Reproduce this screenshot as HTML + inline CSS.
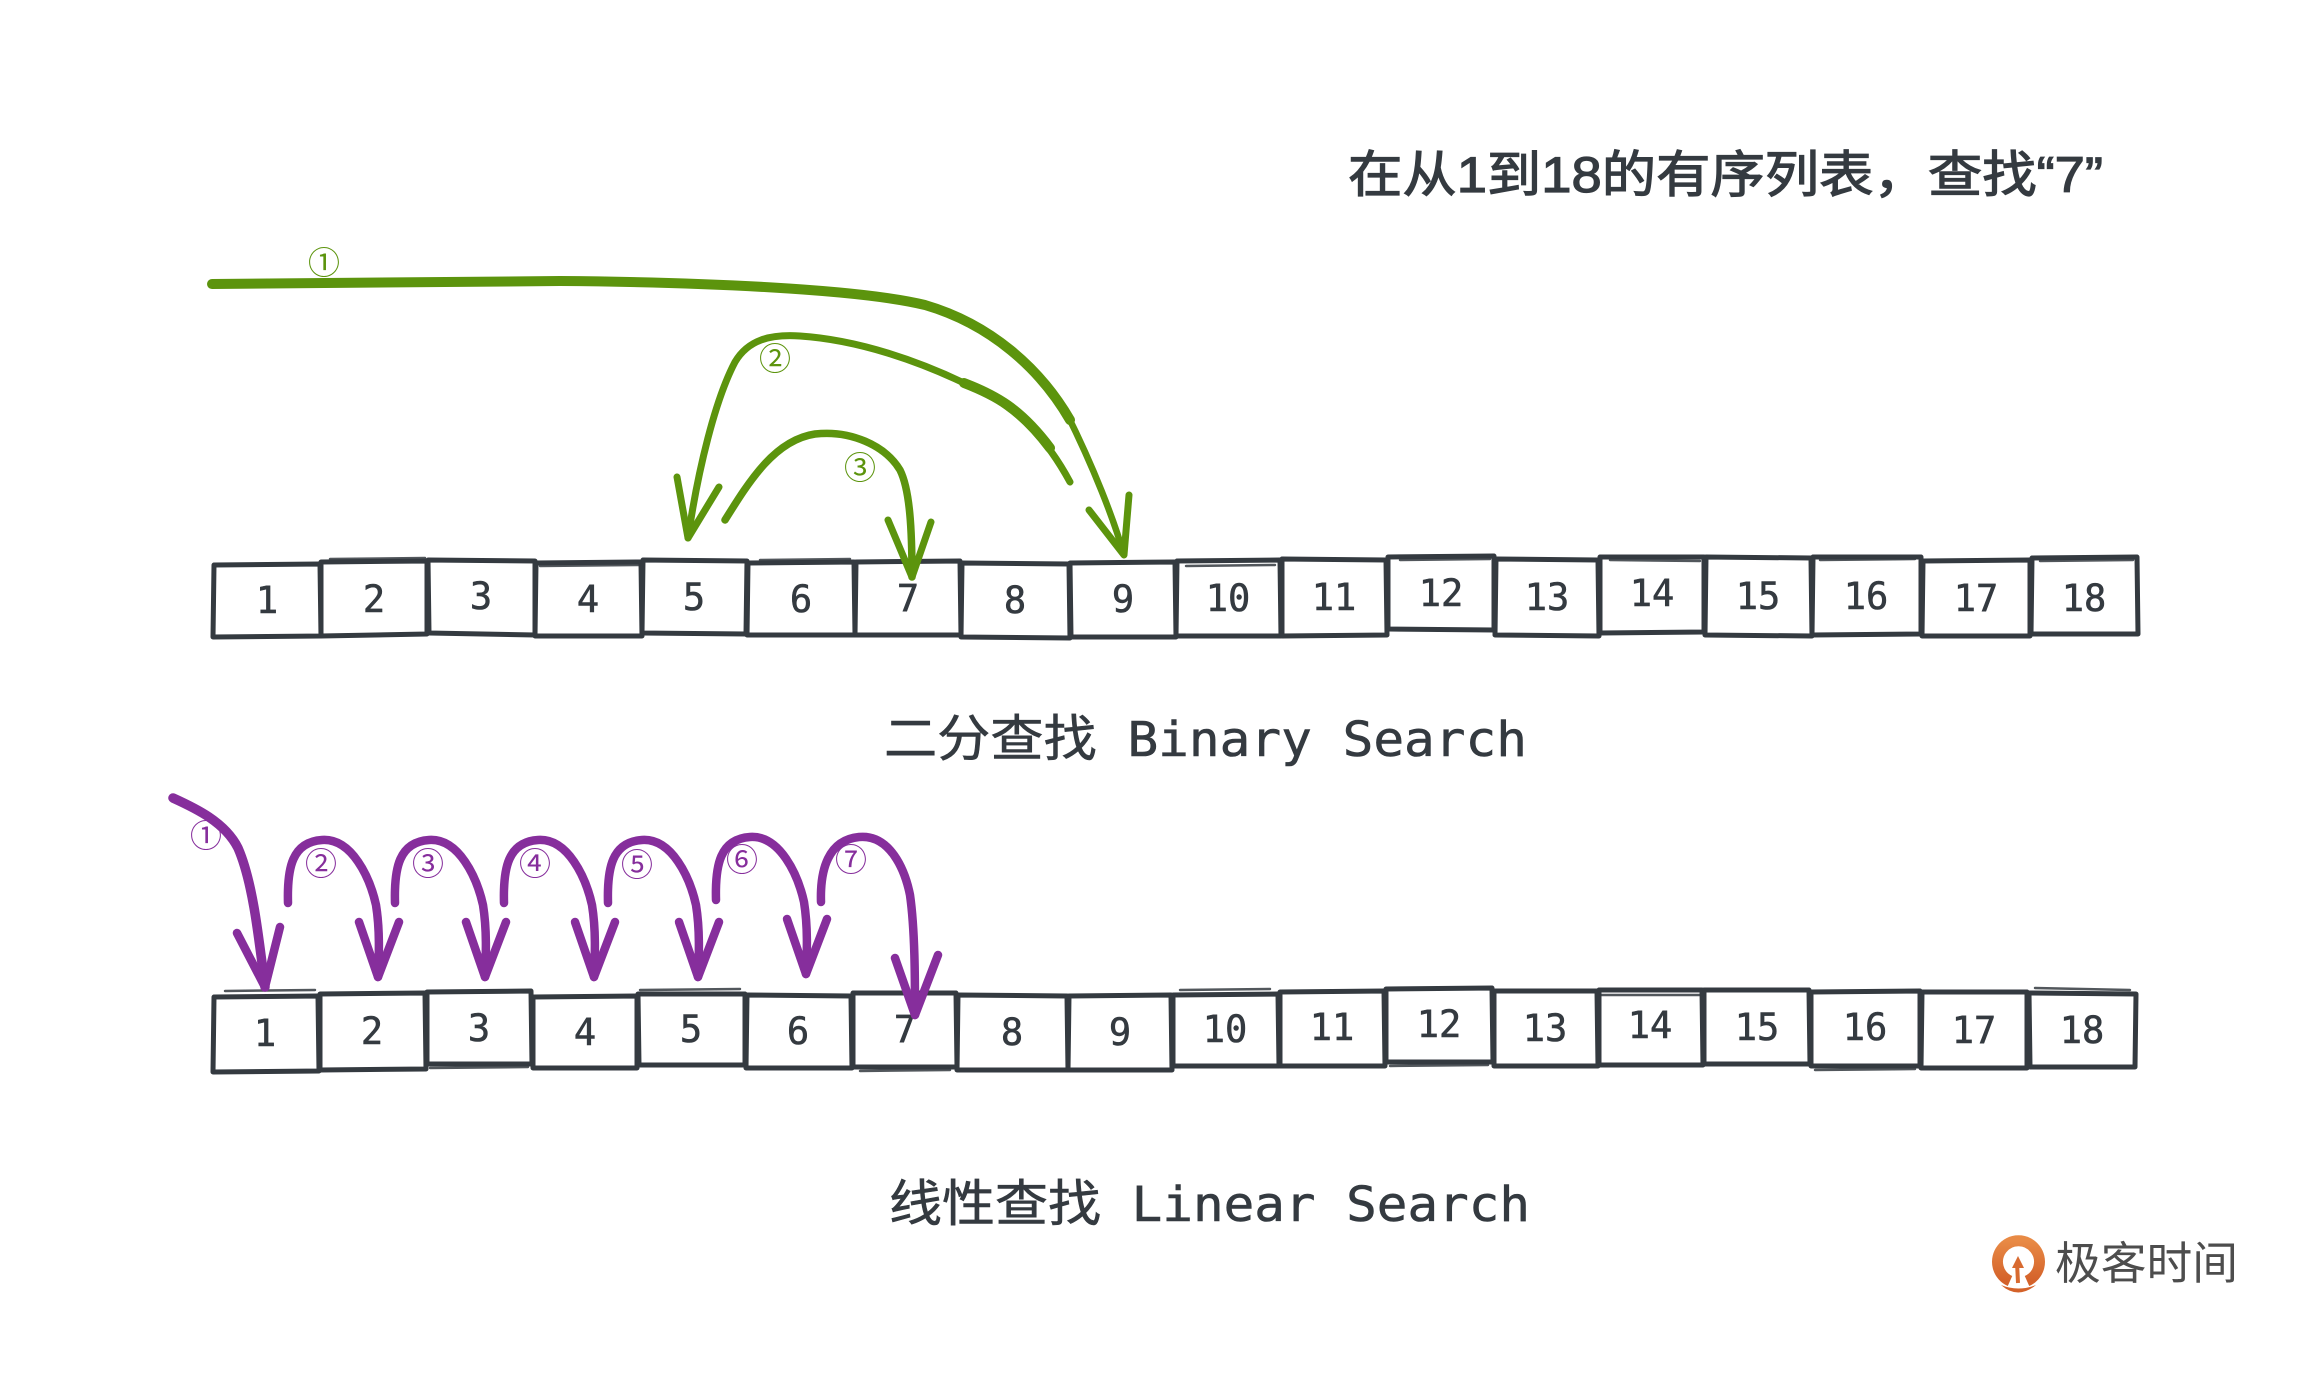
<!DOCTYPE html>
<html>
<head>
<meta charset="utf-8">
<style>
html,body{margin:0;padding:0;background:#ffffff;}
svg{display:block;}
text{white-space:pre;}
</style>
</head>
<body>
<svg xmlns="http://www.w3.org/2000/svg" width="2312" height="1379" viewBox="0 0 2312 1379">
<rect x="0" y="0" width="2312" height="1379" fill="#ffffff"/>

<!-- Title -->
<text x="1348" y="192" font-family="Liberation Sans, Noto Sans CJK SC, sans-serif" font-size="50" fill="#343a40" stroke="#343a40" stroke-width="1.2" textLength="755" lengthAdjust="spacingAndGlyphs">在从1到18的有序列表，查找“7”</text>

<!-- ===== Top row boxes ===== -->
<g fill="none" stroke="#343a40" stroke-width="5" stroke-linejoin="round" stroke-linecap="round">
<path d="M214,565 L320,564 L321,636 L213,637 Z"/>
<path d="M321,562 L427,561 L427,634 L321,636 Z"/>
<path d="M428,560 L535,561 L535,635 L429,633 Z"/>
<path d="M536,563 L641,562 L642,636 L535,636 Z"/>
<path d="M643,560 L747,561 L746,634 L642,633 Z"/>
<path d="M748,563 L854,562 L855,635 L747,635 Z"/>
<path d="M856,562 L960,561 L961,635 L855,635 Z"/>
<path d="M962,563 L1069,564 L1070,638 L961,637 Z"/>
<path d="M1070,563 L1175,562 L1176,637 L1071,637 Z"/>
<path d="M1177,561 L1280,560 L1281,636 L1176,636 Z"/>
<path d="M1282,559 L1386,560 L1387,635 L1282,636 Z"/>
<path d="M1388,557 L1494,556 L1494,630 L1388,629 Z"/>
<path d="M1496,559 L1598,560 L1599,636 L1495,635 Z"/>
<path d="M1600,557 L1704,557 L1704,632 L1600,633 Z"/>
<path d="M1706,557 L1811,558 L1812,636 L1705,635 Z"/>
<path d="M1813,557 L1921,557 L1921,634 L1812,635 Z"/>
<path d="M1923,561 L2030,560 L2030,636 L1922,636 Z"/>
<path d="M2032,558 L2137,557 L2138,634 L2031,634 Z"/>
</g>
<g fill="none" stroke="#343a40" stroke-width="2.5" stroke-linecap="round" opacity="0.85">
<path d="M330,559 L425,558 M540,566 L640,565 M760,560 L850,559 M1186,566 L1275,565 M1400,560 L1490,559 M1610,560 L1700,561 M1820,560 L1915,559 M2040,561 L2133,560"/>
</g>

<g font-family="DejaVu Sans Mono, Liberation Mono, monospace" font-size="37" fill="#343a40" stroke="#343a40" stroke-width="0.6" text-anchor="middle">
<text x="267" y="613">1</text>
<text x="374" y="612">2</text>
<text x="481" y="609">3</text>
<text x="588" y="612">4</text>
<text x="694" y="610">5</text>
<text x="801" y="612">6</text>
<text x="908" y="611">7</text>
<text x="1015" y="613">8</text>
<text x="1123" y="612">9</text>
<text x="1228" y="611">10</text>
<text x="1334" y="610">11</text>
<text x="1441" y="606">12</text>
<text x="1547" y="610">13</text>
<text x="1652" y="606">14</text>
<text x="1758" y="609">15</text>
<text x="1866" y="609">16</text>
<text x="1976" y="611">17</text>
<text x="2084" y="611">18</text>
</g>

<!-- Binary label -->
<text x="884" y="756" font-size="50" fill="#343a40" stroke="#343a40" stroke-width="0.6" textLength="643" lengthAdjust="spacingAndGlyphs"><tspan font-family="Noto Sans CJK SC, sans-serif">二分查找</tspan><tspan font-family="DejaVu Sans Mono, Liberation Mono, monospace" font-size="48"> Binary Search</tspan></text>

<!-- ===== Green arrows ===== -->
<g fill="none" stroke="#5c940d" stroke-linecap="round" stroke-linejoin="round">
<!-- arrow 1 -->
<path d="M212,284 L560,281 C700,282 860,289 925,305 C990,324 1040,368 1070,420" stroke-width="10"/>
<path d="M1066,412 C1094,468 1114,520 1124,555" stroke-width="6.5"/>
<path d="M1089,510 L1124,555 L1129,495" stroke-width="7"/>
<!-- arrow 2 -->
<path d="M1070,482 C1050,445 1020,405 964,383 C920,362 860,340 800,336 C770,334 748,340 735,362 C715,400 698,470 688,538" stroke-width="7"/>
<path d="M1050,448 C1020,408 995,395 964,383" stroke-width="10"/>
<path d="M677,477 L688,538 L719,487" stroke-width="7"/>
<!-- arrow 3 -->
<path d="M725,520 C750,480 775,440 815,434 C850,430 885,445 900,470 C910,490 912,530 912,577" stroke-width="7.5"/>
<path d="M888,520 L912,577 L931,522" stroke-width="7"/>
</g>
<g font-family="Noto Sans CJK SC, DejaVu Sans, sans-serif" font-size="32" fill="#5c940d" text-anchor="middle" dominant-baseline="central">
<text x="324" y="261">①</text>
<text x="775" y="357">②</text>
<text x="860" y="466">③</text>
</g>

<!-- ===== Bottom row boxes ===== -->
<g fill="none" stroke="#343a40" stroke-width="5" stroke-linejoin="round" stroke-linecap="round">
<path d="M214,997 L318,996 L319,1071 L213,1072 Z"/>
<path d="M320,994 L425,993 L426,1069 L320,1070 Z"/>
<path d="M427,992 L531,991 L532,1064 L427,1064 Z"/>
<path d="M533,997 L637,996 L637,1068 L533,1068 Z"/>
<path d="M638,994 L745,994 L745,1065 L639,1065 Z"/>
<path d="M747,995 L851,996 L852,1068 L746,1068 Z"/>
<path d="M853,993 L956,993 L957,1067 L853,1067 Z"/>
<path d="M958,995 L1067,996 L1068,1070 L957,1070 Z"/>
<path d="M1069,996 L1171,995 L1172,1070 L1068,1070 Z"/>
<path d="M1173,995 L1278,994 L1279,1066 L1173,1066 Z"/>
<path d="M1280,992 L1384,991 L1385,1066 L1280,1066 Z"/>
<path d="M1386,989 L1492,988 L1493,1062 L1386,1062 Z"/>
<path d="M1494,991 L1597,991 L1598,1066 L1494,1066 Z"/>
<path d="M1599,990 L1702,990 L1703,1065 L1599,1065 Z"/>
<path d="M1704,990 L1809,990 L1810,1064 L1704,1064 Z"/>
<path d="M1811,992 L1920,991 L1920,1066 L1811,1066 Z"/>
<path d="M1922,992 L2027,992 L2027,1068 L1921,1068 Z"/>
<path d="M2029,993 L2136,994 L2135,1067 L2030,1067 Z"/>
</g>
<g fill="none" stroke="#343a40" stroke-width="2.5" stroke-linecap="round" opacity="0.85">
<path d="M225,991 L315,990 M430,1068 L528,1067 M640,990 L740,989 M860,1071 L950,1070 M1180,990 L1270,989 M1390,1066 L1488,1065 M1600,995 L1700,995 M1815,1070 L1915,1069 M2035,988 L2130,990"/>
</g>

<g font-family="DejaVu Sans Mono, Liberation Mono, monospace" font-size="37" fill="#343a40" stroke="#343a40" stroke-width="0.6" text-anchor="middle">
<text x="265" y="1046">1</text>
<text x="372" y="1044">2</text>
<text x="479" y="1041">3</text>
<text x="585" y="1045">4</text>
<text x="691" y="1042">5</text>
<text x="798" y="1044">6</text>
<text x="905" y="1042">7</text>
<text x="1012" y="1045">8</text>
<text x="1120" y="1045">9</text>
<text x="1225" y="1042">10</text>
<text x="1332" y="1040">11</text>
<text x="1439" y="1037">12</text>
<text x="1545" y="1041">13</text>
<text x="1650" y="1038">14</text>
<text x="1757" y="1040">15</text>
<text x="1865" y="1040">16</text>
<text x="1974" y="1043">17</text>
<text x="2082" y="1043">18</text>
</g>

<!-- ===== Purple arrows ===== -->
<g fill="none" stroke="#862e9c" stroke-linecap="round" stroke-linejoin="round" stroke-width="8.5">
<!-- arrow 1 -->
<path d="M173,798 C195,808 225,822 238,848 C252,880 258,930 265,987" stroke-width="9.5"/>
<path d="M237,933 L265,987 L280,927"/>
<!-- arrows 2..6 -->
<g>
<path d="M288,903 C287,868 292,842 322,840 C352,838 370,878 376,905 C380,930 379,955 378,977"/>
<path d="M359,922 L378,977 L399,922"/>
</g>
<g transform="translate(107,0)">
<path d="M288,903 C287,868 292,842 322,840 C352,838 370,878 376,905 C380,930 379,955 378,977"/>
<path d="M359,922 L378,977 L399,922"/>
</g>
<g transform="translate(216,0)">
<path d="M288,903 C287,868 292,842 322,840 C352,838 370,878 376,905 C380,930 379,955 378,977"/>
<path d="M359,922 L378,977 L399,922"/>
</g>
<g transform="translate(320,0)">
<path d="M288,903 C287,868 292,842 322,840 C352,838 370,878 376,905 C380,930 379,955 378,977"/>
<path d="M359,922 L378,977 L399,922"/>
</g>
<g transform="translate(428,-3)">
<path d="M288,903 C287,868 292,842 322,840 C352,838 370,878 376,905 C380,930 379,955 378,977"/>
<path d="M359,922 L378,977 L399,922"/>
</g>
<!-- arrow 7 -->
<path d="M821,902 C820,870 828,840 859,837 C890,834 905,870 910,895 C915,930 915,980 915,1015"/>
<path d="M895,958 L915,1015 L938,955"/>
</g>
<g font-family="Noto Sans CJK SC, DejaVu Sans, sans-serif" font-size="32" fill="#862e9c" text-anchor="middle" dominant-baseline="central">
<text x="206" y="834">①</text>
<text x="321" y="862">②</text>
<text x="428" y="862">③</text>
<text x="535" y="862">④</text>
<text x="637" y="863">⑤</text>
<text x="742" y="858">⑥</text>
<text x="851" y="858">⑦</text>
</g>

<!-- Linear label -->
<text x="889" y="1221" font-size="50" fill="#343a40" stroke="#343a40" stroke-width="0.6" textLength="641" lengthAdjust="spacingAndGlyphs"><tspan font-family="Noto Sans CJK SC, sans-serif">线性查找</tspan><tspan font-family="DejaVu Sans Mono, Liberation Mono, monospace" font-size="48"> Linear Search</tspan></text>

<!-- Logo -->
<defs>
<linearGradient id="og" x1="0" y1="0" x2="0" y2="1">
<stop offset="0" stop-color="#e88a45"/>
<stop offset="1" stop-color="#d4622a"/>
</linearGradient>
</defs>
<g>
<path d="M2010,1281 A21,21 0 1 1 2027,1281" fill="none" stroke="url(#og)" stroke-width="11" stroke-linecap="butt"/>
<path d="M2012,1268 L2018,1256 L2024,1268 Z" fill="#d86a30"/>
<path d="M2017,1262 L2018,1283" stroke="#d86a30" stroke-width="4"/>
<path d="M2001,1285 Q2018,1300 2036,1285 Q2018,1292 2001,1285 Z" fill="#d4622a"/>
</g>
<text x="2055" y="1279" font-family="Noto Sans CJK SC, sans-serif" font-size="45" fill="#4d4d4d" textLength="183" lengthAdjust="spacingAndGlyphs">极客时间</text>
</svg>
</body>
</html>
